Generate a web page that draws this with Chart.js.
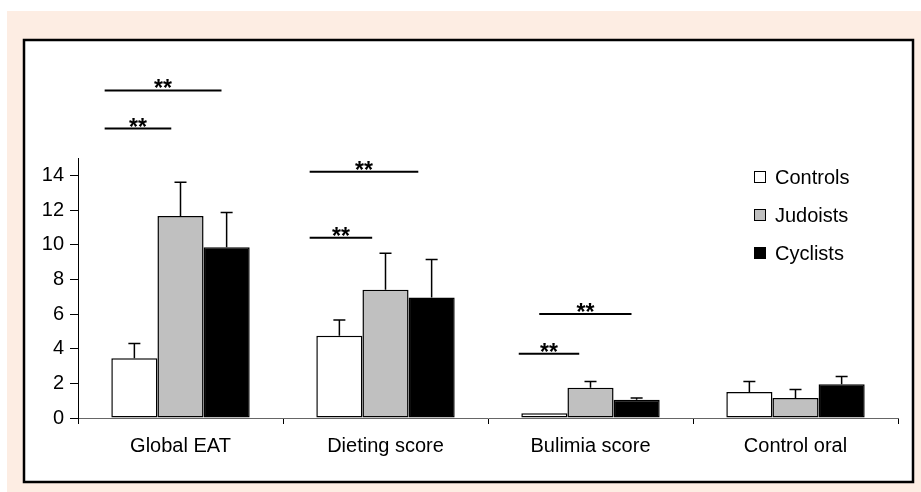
<!DOCTYPE html>
<html>
<head>
<meta charset="utf-8">
<script src="https://cdn.jsdelivr.net/npm/chart.js@4"></script>
<style>
  html, body { margin: 0; padding: 0; background: #fff; }
  #wrap { width: 921px; height: 492px; }
</style>
</head>
<body>
<div id="wrap"><canvas id="eatChart" width="921" height="492"></canvas></div>
<script>
// Categories and group means
var categories = ['Global EAT', 'Dieting score', 'Bulimia score', 'Control oral'];
var controls  = [3.45, 4.75, 0.27, 1.5];
var judoists  = [11.65, 7.4, 1.75, 1.15];
var cyclists  = [9.85, 6.95, 1.05, 1.95];

// Upper error bars (SD)
var controlsSd = [0.85, 0.9, 0, 0.6];
var judoistsSd = [1.95, 2.1, 0.35, 0.5];
var cyclistsSd = [2.0, 2.2, 0.1, 0.45];

// y axis tick values
var yTicks = [0, 2, 4, 6, 8, 10, 12, 14];

// Significance brackets: category index, level (data units), span in category widths
var sigCategory = [0, 0, 1, 1, 2, 2];
var sigLevel    = [18.9, 16.7, 14.2, 10.4, 6.0, 3.7];
var sigFrom     = [-0.37, -0.37, -0.37, -0.37, -0.25, -0.35];
var sigTo       = [0.2, -0.045, 0.16, -0.065, 0.2, -0.055];
var sigText     = ['**', '**', '**', '**', '**', '**'];

var FONT = "'Liberation Sans', Arial, sans-serif";
var peach = '#fdede3';

Chart.defaults.font.family = FONT;
Chart.defaults.font.size = 20;
Chart.defaults.color = '#000';

// background panel + framed white box
var framePlugin = {
  id: 'frame',
  beforeDraw: function (chart) {
    var ctx = chart.ctx;
    ctx.save();
    ctx.fillStyle = '#fff';
    ctx.fillRect(0, 0, chart.width, chart.height);
    ctx.fillStyle = peach;
    ctx.fillRect(7, 11, chart.width - 7, chart.height - 11);
    ctx.fillStyle = '#fff';
    ctx.fillRect(24, 40, 889, 442);
    ctx.strokeStyle = '#000';
    ctx.lineWidth = 2.5;
    ctx.strokeRect(24, 40, 889, 442);
    ctx.restore();
  }
};

var sds = [controlsSd, judoistsSd, cyclistsSd];

var errorBarPlugin = {
  id: 'errorBars',
  afterDatasetsDraw: function (chart) {
    var ctx = chart.ctx;
    var y = chart.scales.y;
    ctx.save();
    ctx.strokeStyle = '#000';
    ctx.lineWidth = 1.5;
    chart.data.datasets.forEach(function (ds, i) {
      var meta = chart.getDatasetMeta(i);
      meta.data.forEach(function (bar, j) {
        var sd = sds[i][j];
        if (!sd) return;
        var top = y.getPixelForValue(ds.data[j] + sd);
        ctx.beginPath();
        ctx.moveTo(bar.x, bar.y);
        ctx.lineTo(bar.x, top);
        ctx.moveTo(bar.x - 6, top);
        ctx.lineTo(bar.x + 6, top);
        ctx.stroke();
      });
    });
    ctx.restore();
  }
};

var sigPlugin = {
  id: 'significance',
  afterDatasetsDraw: function (chart) {
    var ctx = chart.ctx;
    var xs = chart.scales.x, ys = chart.scales.y;
    var w = (xs.right - xs.left) / categories.length;
    ctx.save();
    ctx.strokeStyle = '#000';
    ctx.fillStyle = '#000';
    ctx.lineWidth = 2;
    ctx.font = 'bold 23px ' + FONT;
    ctx.textAlign = 'center';
    ctx.textBaseline = 'alphabetic';
    for (var k = 0; k < sigLevel.length; k++) {
      var cx = xs.getPixelForValue(sigCategory[k]);
      var x1 = cx + sigFrom[k] * w, x2 = cx + sigTo[k] * w;
      var yy = ys.getPixelForValue(sigLevel[k]);
      ctx.beginPath();
      ctx.moveTo(x1, yy);
      ctx.lineTo(x2, yy);
      ctx.stroke();
      ctx.fillText(sigText[k], (x1 + x2) / 2, yy + 6);
    }
    ctx.restore();
  }
};

// legend inside the plot, top right
var legendPlugin = {
  id: 'insideLegend',
  afterDraw: function (chart) {
    var ctx = chart.ctx;
    var a = chart.chartArea;
    ctx.save();
    ctx.font = '20px ' + FONT;
    ctx.textBaseline = 'middle';
    ctx.textAlign = 'left';
    chart.data.datasets.forEach(function (ds, i) {
      var bx = a.right - 144;
      var cy = a.top + 19 + i * 38;
      ctx.fillStyle = ds.backgroundColor;
      ctx.fillRect(bx, cy - 6, 12, 12);
      ctx.strokeStyle = '#000';
      ctx.lineWidth = 1;
      ctx.strokeRect(bx + 0.5, cy - 5.5, 11, 11);
      ctx.fillStyle = '#000';
      ctx.fillText(ds.label, bx + 21, cy + 1);
    });
    ctx.restore();
  }
};

function barSet(label, data, fill) {
  return {
    label: label,
    data: data,
    backgroundColor: fill,
    borderColor: '#000',
    borderWidth: 1.5,
    borderSkipped: false,
    barPercentage: 1,
    categoryPercentage: 0.675
  };
}

new Chart(document.getElementById('eatChart'), {
  type: 'bar',
  data: {
    labels: categories,
    datasets: [
      barSet('Controls', controls, '#ffffff'),
      barSet('Judoists', judoists, '#c0c0c0'),
      barSet('Cyclists', cyclists, '#000000')
    ]
  },
  options: {
    responsive: false,
    animation: false,
    devicePixelRatio: 1,
    layout: { padding: { left: 30, right: 23, top: 158, bottom: 24 } },
    scales: {
      x: {
        grid: { offset: true, drawOnChartArea: false, tickLength: 6, color: '#000' },
        border: { color: '#666', width: 1 },
        ticks: { padding: 10, font: { size: 20 }, color: '#000' },
        afterFit: function (s) { s.height = 50; }
      },
      y: {
        min: 0,
        max: 15,
        grid: { drawOnChartArea: false, tickLength: 8, color: '#000' },
        border: { color: '#000', width: 1 },
        ticks: { stepSize: 2, padding: 6, font: { size: 20 }, color: '#000' },
        afterBuildTicks: function (s) {
          s.ticks = yTicks.map(function (v) { return { value: v }; });
        },
        afterFit: function (s) { s.width = 48; }
      }
    },
    plugins: {
      legend: { display: false },
      tooltip: { enabled: false }
    }
  },
  plugins: [framePlugin, errorBarPlugin, sigPlugin, legendPlugin]
});
</script>
</body>
</html>
